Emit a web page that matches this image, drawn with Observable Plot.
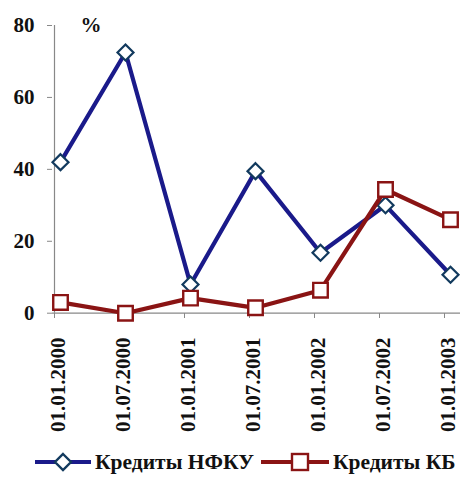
<!DOCTYPE html>
<html>
<head>
<meta charset="utf-8">
<script src="https://cdn.jsdelivr.net/npm/d3@7"></script>
<script src="https://cdn.jsdelivr.net/npm/@observablehq/plot@0.6"></script>
<style>
  html, body { margin: 0; padding: 0; background: #fff; }
  #chart { width: 472px; }
  .legend { display: flex; align-items: center; height: 32px; padding-left: 34px;
    font-family: "Liberation Serif", "DejaVu Serif", "Times New Roman", serif; font-weight: bold; font-size: 21.5px; color: #111; }
  .legend .item { display: flex; align-items: center; }
  .legend svg { display: block; }
  #chart svg text { font-family: "Liberation Serif", "DejaVu Serif", "Times New Roman", serif; }
</style>
</head>
<body>
<div id="chart"></div>
<script>
const dates = ["01.01.2000", "01.07.2000", "01.01.2001", "01.07.2001", "01.01.2002", "01.07.2002", "01.01.2003"];
const nfku = [42, 72.5, 8, 39.5, 16.8, 30, 10.7];
const kb = [3, 0, 4.2, 1.5, 6.4, 34.4, 26];
const yTicks = [0, 20, 40, 60, 80];
const seriesNames = ["Кредиты НФКУ", "Кредиты КБ"];
const unitLabel = "%";

const blue = "#1a1a8a";
const blueMarker = "#123a5e";
const red = "#8a1414";

const dataN = dates.map((d, i) => ({date: d, v: nfku[i]}));
const dataK = dates.map((d, i) => ({date: d, v: kb[i]}));

const font = "'Liberation Serif', 'DejaVu Serif', 'Times New Roman', serif";

const plot = Plot.plot({
  width: 472,
  height: 446,
  marginLeft: 52,
  marginRight: 12,
  marginTop: 25,
  marginBottom: 133,
  style: {fontFamily: font, color: "#111", background: "#fff"},
  x: {type: "point", domain: dates, range: [58, 451], padding: 0, axis: null, label: null},
  y: {domain: [0, 80], range: [312.7, 25], axis: null, label: null},
  marks: [
    Plot.ruleY([0], {stroke: "#888", strokeWidth: 1.2}),
    Plot.ruleX([dates[0]], {y1: 0, y2: 80, dx: -6, stroke: "#888", strokeWidth: 1.2}),
    Plot.axisY({ticks: yTicks, tickSize: 5, tickPadding: 13, stroke: "#888", label: null,
      fontSize: 21, fontWeight: "bold", fill: "#111"}),
    Plot.axisX({ticks: dates, tickSize: 5, dx: -6, stroke: "#888", label: null, tickFormat: () => ""}),
    Plot.axisX({ticks: dates, tickSize: 0, tickPadding: 24, tickRotate: -90, label: null,
      fontSize: 21, fontWeight: "bold", fill: "#111", dx: -2}),
    Plot.text([unitLabel], {frameAnchor: "top-left", dx: 28, dy: 0, lineAnchor: "middle",
      fontSize: 21, fontWeight: "bold", fill: "#111"}),
    Plot.line(dataN, {x: "date", y: "v", stroke: blue, strokeWidth: 4.2, strokeLinejoin: "round"}),
    Plot.dot(dataN, {x: "date", y: "v", symbol: "diamond2", r: 7.2, fill: "#fff", stroke: blueMarker, strokeWidth: 2.2}),
    Plot.line(dataK, {x: "date", y: "v", stroke: red, strokeWidth: 4.2, strokeLinejoin: "round"}),
    Plot.dot(dataK, {x: "date", y: "v", symbol: "square", r: 8.2, fill: "#fff", stroke: red, strokeWidth: 2.4})
  ]
});
document.getElementById("chart").appendChild(plot);

const legend = document.createElement("div");
legend.className = "legend";
function swatch(color, markerColor, kind, w, cx) {
  const ns = "http://www.w3.org/2000/svg";
  const s = document.createElementNS(ns, "svg");
  s.setAttribute("width", w); s.setAttribute("height", 24);
  const l = document.createElementNS(ns, "line");
  l.setAttribute("x1", 1); l.setAttribute("x2", w - 1); l.setAttribute("y1", 12); l.setAttribute("y2", 12);
  l.setAttribute("stroke", color); l.setAttribute("stroke-width", 4);
  s.appendChild(l);
  let m;
  if (kind === "diamond") {
    m = document.createElementNS(ns, "path");
    m.setAttribute("d", `M${cx},4L${cx + 8},12L${cx},20L${cx - 8},12Z`);
  } else {
    m = document.createElementNS(ns, "rect");
    m.setAttribute("x", cx - 8); m.setAttribute("y", 4); m.setAttribute("width", 16); m.setAttribute("height", 16);
  }
  m.setAttribute("fill", "#fff"); m.setAttribute("stroke", markerColor); m.setAttribute("stroke-width", 2.4);
  s.appendChild(m);
  return s;
}
[[seriesNames[0], blue, blueMarker, "diamond", 58, 29], [seriesNames[1], red, red, "square", 70, 40]].forEach(([name, c, mc, k, w, cx], i) => {
  const it = document.createElement("div");
  it.className = "item";
  if (i > 0) it.style.marginLeft = "6px";
  it.appendChild(swatch(c, mc, k, w, cx));
  const t = document.createElement("span");
  t.textContent = name;
  t.style.marginLeft = "3px";
  it.appendChild(t);
  legend.appendChild(it);
});
document.getElementById("chart").appendChild(legend);
</script>
</body>
</html>
